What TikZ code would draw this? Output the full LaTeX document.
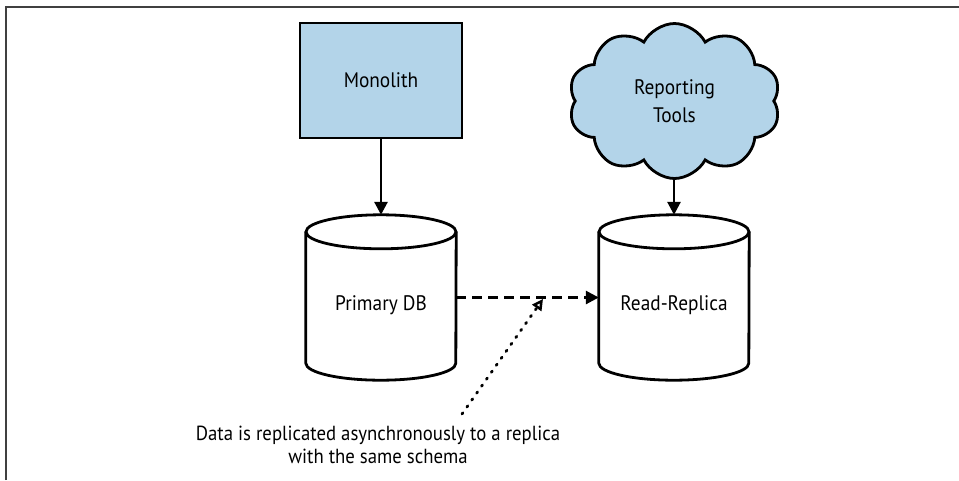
\documentclass[tikz,border=0pt]{standalone}
\usepackage{fontspec}
\setmainfont{PT Sans}[FakeStretch=0.92]
\usetikzlibrary{arrows.meta,shapes.symbols}
\definecolor{boxblue}{HTML}{B3D4E9}
\tikzset{
  lw/.style={line width=2.8pt},
  labelfont/.style={font=\fontsize{21}{25}\selectfont},
  bluebox/.style={draw, lw, fill=boxblue, minimum width=162pt, minimum height=115pt, inner sep=0pt, labelfont},
  cloudbox/.style={cloud, draw, lw, fill=boxblue, cloud puffs=10, cloud puff arc=125, cloud ignores aspect, minimum width=212pt, minimum height=155pt, inner sep=0pt, align=center, font=\fontsize{21}{28}\selectfont},
  dbbox/.style={minimum width=150pt, minimum height=165pt, inner sep=0pt},
  solidarrow/.style={lw, -{Triangle[length=13pt,width=13pt]}},
  dasharrow/.style={lw, dash pattern=on 10pt off 6pt, -{Triangle[length=13pt,width=13pt]}},
  dotarrow/.style={line width=2.8pt, line cap=round, dash pattern=on 1.5pt off 7pt, -{Triangle[open,length=11pt,width=11pt,line width=2.5pt]}},
  note/.style={align=center, inner sep=0pt, font=\fontsize{20.4}{23}\selectfont}
}
\newcommand\dbcylinder[1]{%
  \draw[lw, line join=round] ([yshift=-17pt]#1.north west) -- ([yshift=17pt]#1.south west)
     arc[start angle=180, end angle=0, x radius=75, y radius=17]
     -- ([yshift=-17pt]#1.north east);
  \draw[lw] ([yshift=-17pt]#1.north) ellipse [x radius=75, y radius=17];
}
\begin{document}
\begin{tikzpicture}[x=1pt,y=-1pt]
\useasboundingbox (0,0) rectangle (959,480);
\draw[line width=1.3pt, black!75] (6,480) -- (6,7) -- (959,7);
\node[bluebox] (mono) at (381,80.5) {Monolith};
\node[cloudbox] (rt) at (674.5,101) {Reporting\\Tools};
\node[dbbox] (pdb) at (381,297.5) {};
\dbcylinder{pdb}
\node[labelfont] (pdbl) at (381,305) {Primary DB};
\node[dbbox] (rr) at (674,297.5) {};
\dbcylinder{rr}
\node[labelfont] (rrl) at (674,305) {Read-Replica};
\draw[solidarrow] (mono.south) -- (pdb.north);
\draw[solidarrow] (rt.south -| rr.north) -- (rr.north);
\draw[dasharrow] (pdb.east) -- (rr.west);
\node[note] (nt) at (378,445) {Data is replicated asynchronously to a replica\\with the same schema};
\coordinate (ds) at (462,414);
\coordinate (dt) at (543,299);
\draw[dotarrow] (ds) -- (dt);
\end{tikzpicture}
\end{document}
